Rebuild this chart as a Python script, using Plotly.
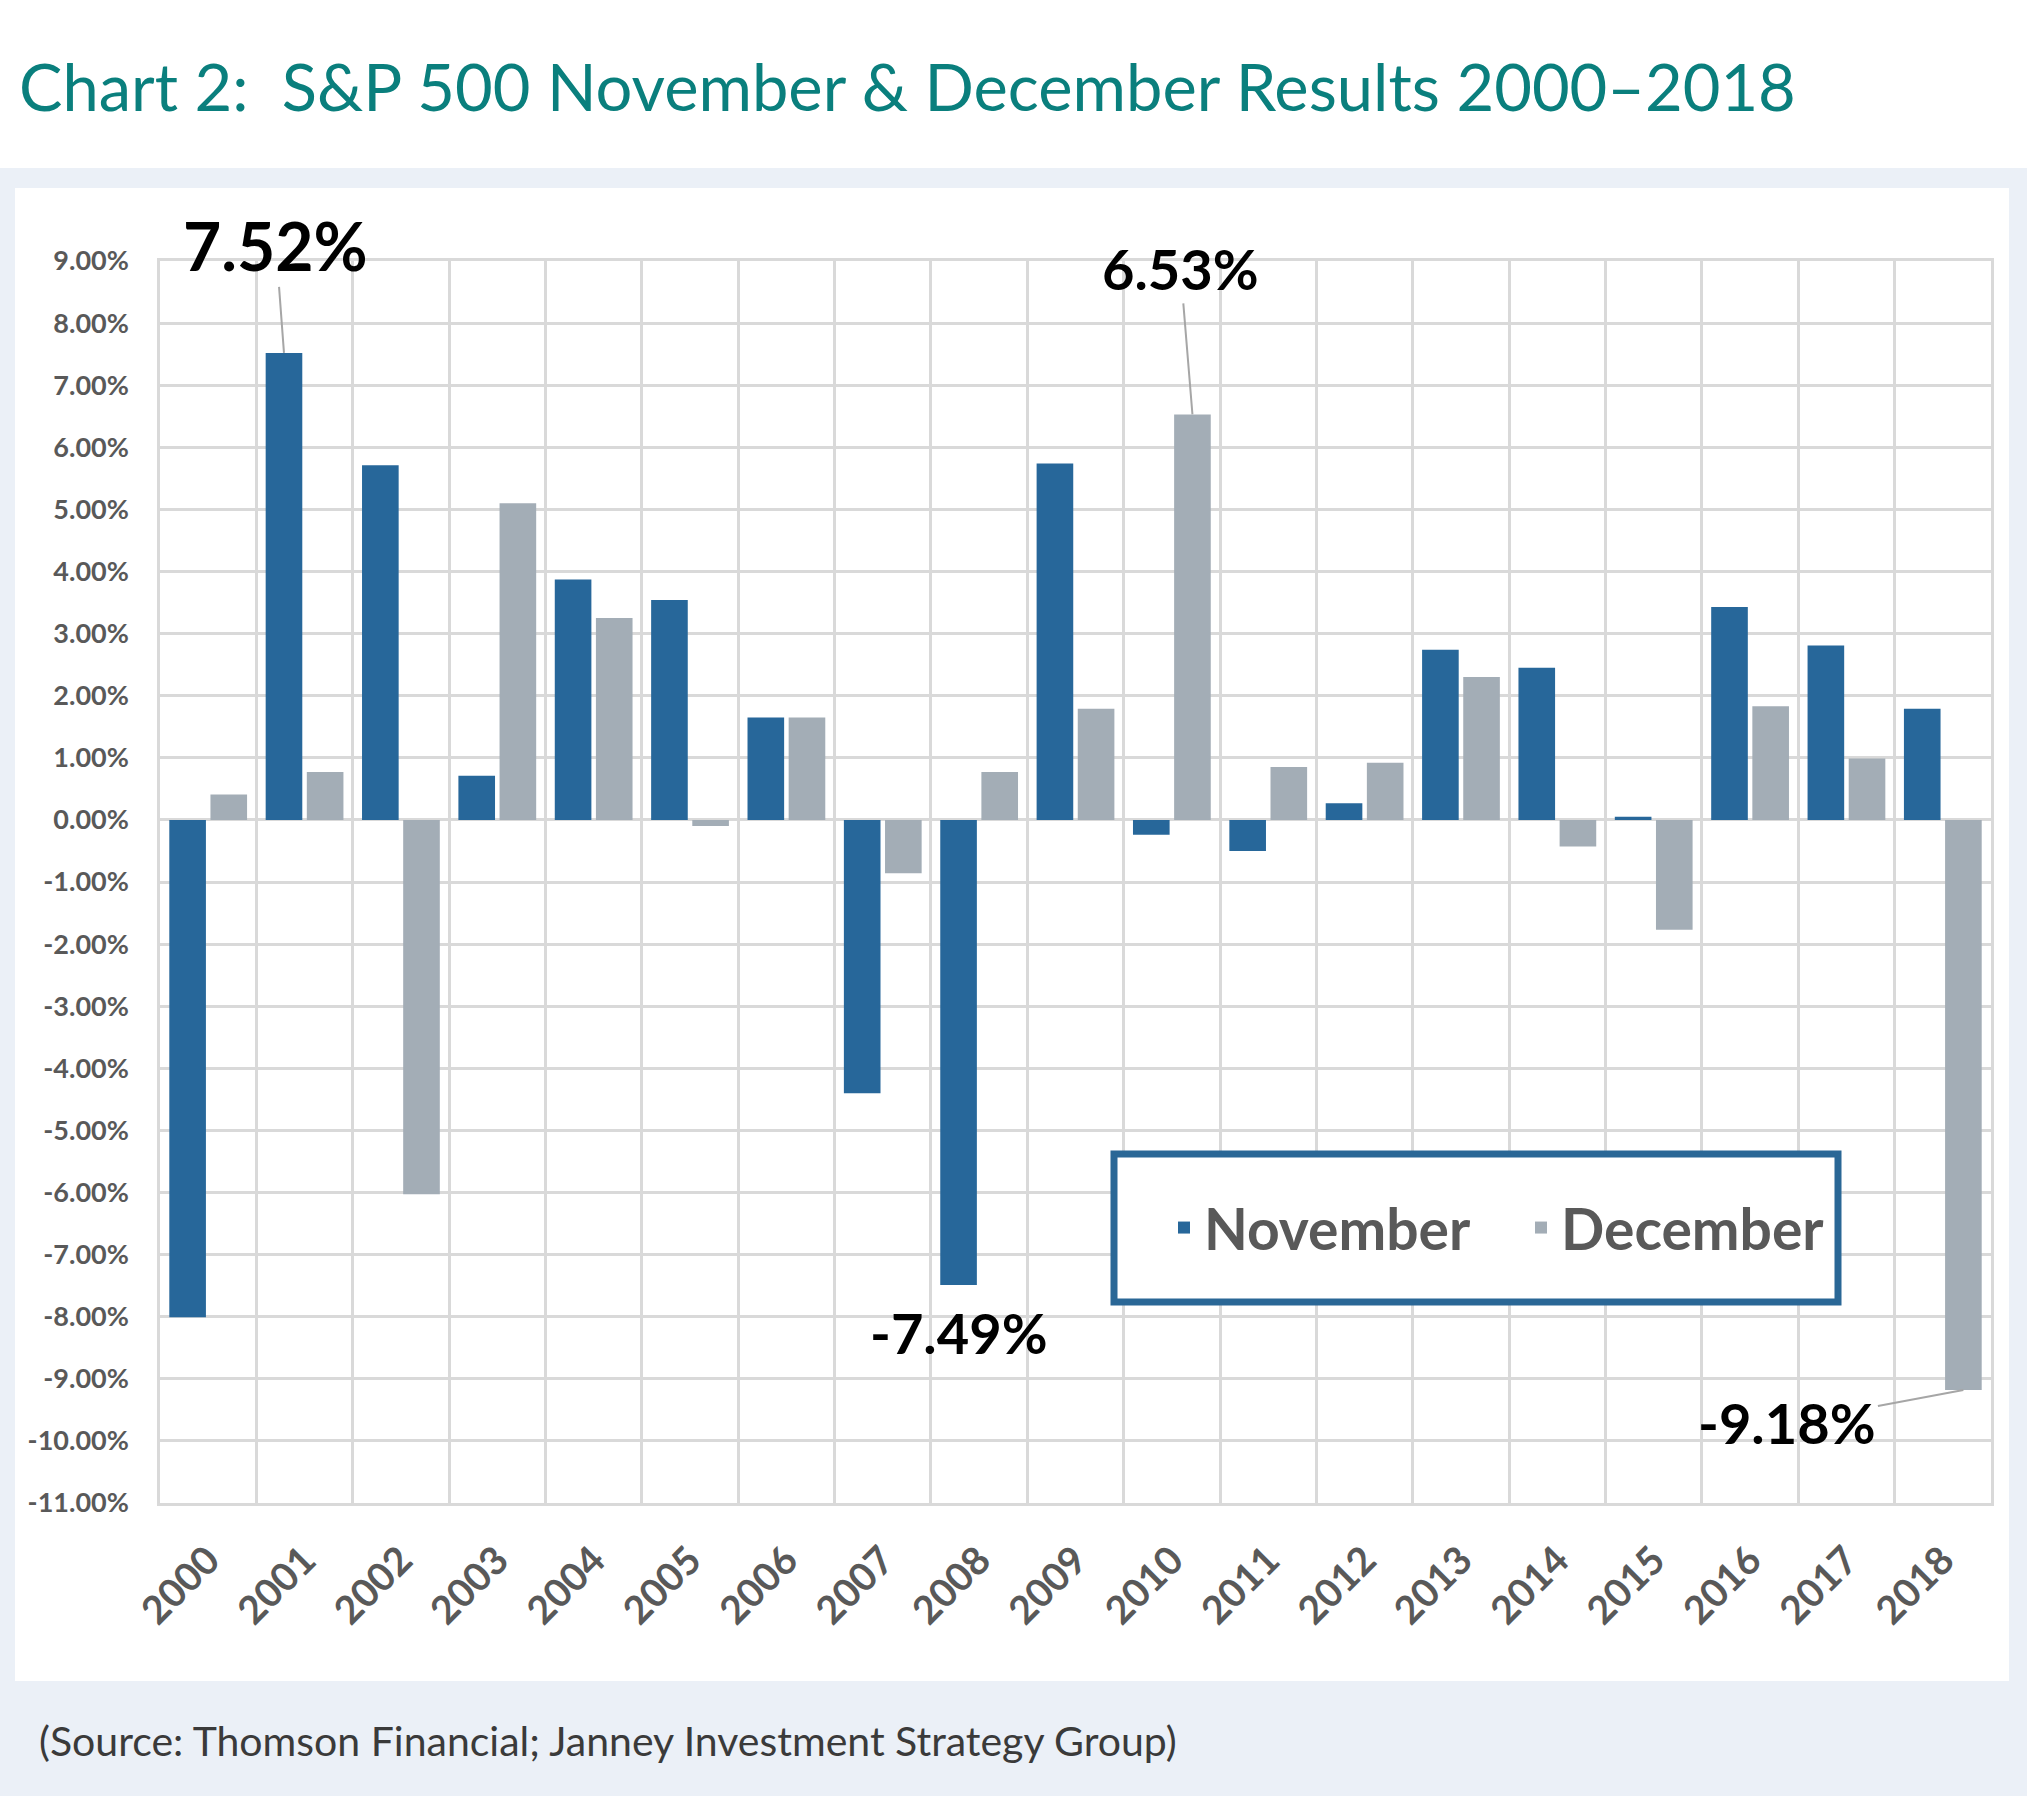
import plotly.graph_objects as go

# ---------------- data ----------------
years = [str(y) for y in range(2000, 2019)]
november = [-8.01, 7.52, 5.71, 0.71, 3.87, 3.54, 1.65, -4.40, -7.49, 5.74,
            -0.24, -0.50, 0.27, 2.74, 2.45, 0.05, 3.43, 2.81, 1.79]
december = [0.41, 0.77, -6.03, 5.10, 3.25, -0.10, 1.65, -0.86, 0.77, 1.79,
            6.53, 0.85, 0.92, 2.30, -0.43, -1.77, 1.83, 0.99, -9.18]
y_ticks = list(range(-11, 10))
y_ticktext = [f"{v:.2f}%" for v in y_ticks]

title_text = "Chart 2:\u00a0 S&P 500 November & December Results 2000\u20132018"
source_text = "(Source: Thomson Financial; Janney Investment Strategy Group)"

# ---------------- styling ----------------
NOV_COLOR = "#27679A"
DEC_COLOR = "#A3ADB6"
GRID = "#D9D9D9"
TEXT_GRAY = "#595959"
TEAL = "#0A7F7D"
BAND = "#EBF0F7"

W, H = 2027, 1796
L, R, T, B = 160, 1991, 261, 1503
BARGAP = 0.146


def px_x(px):
    return (px - L) / (R - L)


def px_y(py):
    return (B - py) / (B - T)


half = (1 - BARGAP) / 4  # offset of each bar centre from category centre

fig = go.Figure()
fig.add_trace(go.Bar(name="November", x=years, y=november,
                     marker=dict(color=NOV_COLOR, line=dict(width=0))))
fig.add_trace(go.Bar(name="December", x=years, y=december,
                     marker=dict(color=DEC_COLOR, line=dict(width=0))))

shapes = [
    # white title area
    dict(type="rect", xref="paper", yref="paper", layer="below",
         x0=px_x(0), x1=px_x(W), y0=px_y(168), y1=px_y(0),
         fillcolor="white", line=dict(width=0)),
    # white chart panel
    dict(type="rect", xref="paper", yref="paper", layer="below",
         x0=px_x(15), x1=px_x(2009), y0=px_y(1681), y1=px_y(188),
         fillcolor="white", line=dict(width=0)),
    # legend frame
    dict(type="rect", xref="paper", yref="paper", layer="above",
         x0=px_x(1114), x1=px_x(1838), y0=px_y(1302), y1=px_y(1154),
         fillcolor="white", line=dict(color="#2A6796", width=7)),
]

arrow_col = "#A6A6A6"
label_font = dict(family="Lato", size=56, color="black", weight="bold")
annotations = [
    dict(text="7.52%", x=1 - half, y=7.52, xref="x", yref="y",
         showarrow=True, arrowhead=0, arrowwidth=2, arrowcolor=arrow_col,
         ax=-8, ay=-107, font=dict(family="Lato", size=66, color="black", weight="bold")),
    dict(text="6.53%", x=10 + half, y=6.53, xref="x", yref="y",
         showarrow=True, arrowhead=0, arrowwidth=2, arrowcolor=arrow_col,
         ax=-12, ay=-146, font=label_font),
    dict(text="-7.49%", x=8 - half, y=-7.49, xref="x", yref="y",
         showarrow=False, yshift=-47, font=label_font),
    dict(text="-9.18%", x=18 + half, y=-9.18, xref="x", yref="y",
         showarrow=True, arrowhead=0, arrowwidth=2, arrowcolor=arrow_col,
         ax=-176, ay=33, font=label_font),
    dict(text=title_text, xref="paper", yref="paper", x=px_x(17), y=px_y(86),
         xanchor="left", yanchor="middle", showarrow=False,
         font=dict(family="Lato", size=65, color=TEAL)),
    dict(text=source_text, xref="paper", yref="paper", x=px_x(37), y=px_y(1740),
         xanchor="left", yanchor="middle", showarrow=False,
         font=dict(family="Lato", size=41, color="#3A3A3A")),
]

fig.update_layout(
    width=W, height=H, autosize=False,
    margin=dict(l=L, r=W - R, t=T, b=H - B, pad=0),
    paper_bgcolor=BAND, plot_bgcolor="rgba(0,0,0,0)",
    barmode="group", bargap=BARGAP, bargroupgap=0.11,
    shapes=shapes, annotations=annotations,
    showlegend=True,
    legend=dict(orientation="h", x=px_x(1164), y=px_y(1228),
                xanchor="left", yanchor="middle",
                bgcolor="rgba(0,0,0,0)", borderwidth=0,
                font=dict(family="Lato", size=57, color=TEXT_GRAY, weight="bold"),
                entrywidth=312, itemwidth=30),
    font=dict(family="Lato"),
)

fig.update_xaxes(
    type="category", tickson="boundaries", range=[-0.5, 18.5],
    showgrid=True, gridcolor=GRID, gridwidth=2.5,
    showline=True, linecolor=GRID, linewidth=2.5, mirror=True,
    ticks="", tickangle=-45, ticklabelstandoff=16,
    tickfont=dict(family="Lato", size=39, color=TEXT_GRAY, weight="bold"),
)
fig.update_yaxes(
    range=[-11, 9], tickvals=y_ticks, ticktext=y_ticktext,
    showgrid=True, gridcolor=GRID, gridwidth=2.5,
    zeroline=True, zerolinecolor=GRID, zerolinewidth=2.5,
    showline=True, linecolor=GRID, linewidth=2.5, mirror=True,
    ticks="", ticklabelstandoff=23,
    tickfont=dict(family="Lato", size=27, color=TEXT_GRAY, weight="bold"),
)

fig.write_html("out.html", config={"displayModeBar": False},
               post_script="document.body.style.margin='0';")
